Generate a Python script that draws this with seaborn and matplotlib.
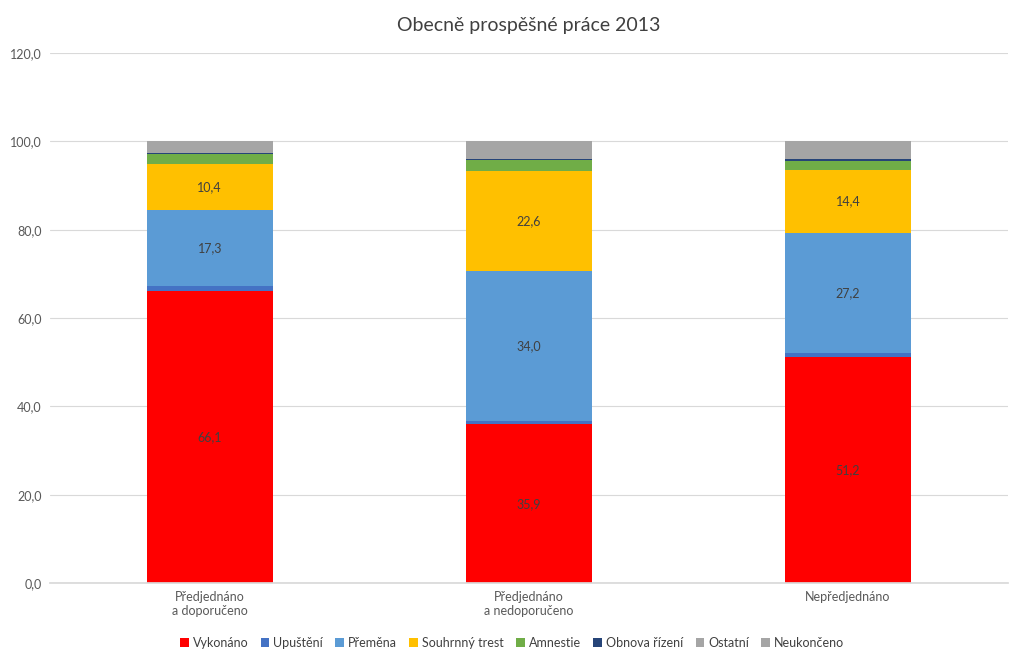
import numpy as np
import pandas as pd
import seaborn as sns
import matplotlib
matplotlib.use("Agg")
import matplotlib.pyplot as plt

# data
categories = ["Předjednáno\na doporučeno", "Předjednáno\na nedoporučeno", "Nepředjednáno"]
series_names = ["Vykonáno", "Upuštění", "Přeměna", "Souhrnný trest",
                "Amnestie", "Obnova řízení", "Ostatní", "Neukončeno"]
vykonano = [66.1, 35.9, 51.2]
upusteni = [1.1, 0.7, 0.8]
premena = [17.3, 34.0, 27.2]
souhrnny = [10.4, 22.6, 14.4]
amnestie = [2.2, 2.5, 2.0]
obnova = [0.2, 0.4, 0.4]
ostatni = [0.2, 0.3, 0.3]
neukonceno = [2.5, 3.6, 3.7]
labelled = ["Vykonáno", "Přeměna", "Souhrnný trest"]

colors = ["#FF0000", "#4472C4", "#5B9BD5", "#FFC000",
          "#70AD47", "#264478", "#A5A5A5", "#A5A5A5"]

values = [vykonano, upusteni, premena, souhrnny, amnestie, obnova, ostatni, neukonceno]

sns.set_theme(style="white")
plt.rcParams["font.family"] = ["Lato", "DejaVu Sans"]

fig = plt.figure(figsize=(10.24, 6.64), dpi=100)
ax = fig.add_axes([0.049, 0.122, 0.935, 0.798])

bottom = np.zeros(len(categories))
for name, vals, col in zip(series_names, values, colors):
    df = pd.DataFrame({"cat": categories, "val": vals})
    sns.barplot(data=df, x="cat", y="val", color=col, width=0.395,
                bottom=bottom, label=name, ax=ax, saturation=1,
                edgecolor="none", linewidth=0)
    if name in labelled:
        for i, v in enumerate(vals):
            ax.text(i, bottom[i] + v / 2, f"{v:.1f}".replace(".", ","),
                    ha="center", va="center", fontsize=9, color="#404040")
    bottom = bottom + np.array(vals)

ax.set_ylim(0, 120)
ax.set_xlim(-0.5, 2.5)
ax.set_yticks(np.arange(0, 121, 20))
ax.set_yticklabels([f"{t:.1f}".replace(".", ",") for t in np.arange(0, 121, 20)])
ax.yaxis.grid(True, color="#D9D9D9", linewidth=0.8)
ax.set_axisbelow(True)
for s in ["top", "right", "left"]:
    ax.spines[s].set_visible(False)
ax.spines["bottom"].set_color("#D9D9D9")
ax.tick_params(axis="both", length=0, labelsize=9, colors="#595959", pad=6)
ax.set_xlabel("")
ax.set_ylabel("")

ax.set_title("Obecně prospěšné práce 2013", fontsize=14, color="#404040", pad=16)

handles, labels = ax.get_legend_handles_labels()
if ax.get_legend() is not None:
    ax.get_legend().remove()
fig.legend(handles, labels, loc="center", bbox_to_anchor=(0.5, 0.032), ncol=8,
           frameon=False, fontsize=9, handlelength=0.7, handleheight=0.7,
           handletextpad=0.3, columnspacing=1.0, labelcolor="#404040")

fig.savefig("out.png", dpi=100)
